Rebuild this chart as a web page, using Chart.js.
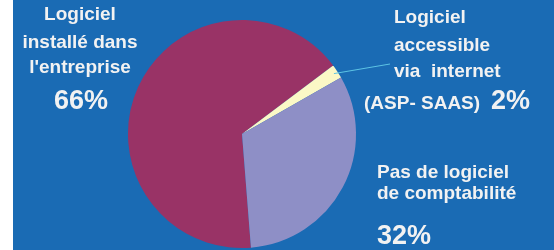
<!DOCTYPE html>
<html>
<head>
<meta charset="utf-8">
<script src="https://cdn.jsdelivr.net/npm/chart.js@4"></script>
<style>
  html, body { margin: 0; padding: 0; background: #fff; }
  #wrap { width: 554px; height: 250px; position: relative; }
</style>
</head>
<body>
<div id="wrap"><canvas id="pie" width="554" height="250"></canvas></div>
<script>
// Répartition des entreprises selon leur logiciel de comptabilité
const categories = [
  "Logiciel installé dans l'entreprise",
  'Logiciel accessible via internet (ASP - SAAS)',
  'Pas de logiciel de comptabilité'
];
const shares = [66, 2, 32];
const sliceColors = ['#993366', '#fbf8c6', '#8e8fc6'];

// label blocks: text lines, percentage
const labelLines = [
  ['Logiciel', 'installé dans', "l'entreprise"],
  ['Logiciel', 'accessible', 'via  internet', '(ASP- SAAS)'],
  ['Pas de logiciel', 'de comptabilité']
];
const pctLabels = ['66%', '2%', '32%'];

const FONT = '"Liberation Sans", Arial, sans-serif';

const backdrop = {
  id: 'backdrop',
  beforeDraw(chart){
    const c = chart.ctx;
    c.save();
    c.fillStyle = '#ffffff';
    c.fillRect(0, 0, chart.width, chart.height);
    c.fillStyle = '#1a6bb4';
    c.fillRect(13, 0, chart.width - 13, chart.height);
    c.restore();
  }
};

const labels = {
  id: 'labels',
  afterDraw(chart){
    const c = chart.ctx;
    c.save();
    c.fillStyle = '#f2f2f2';
    c.textBaseline = 'middle';

    // left block
    c.textAlign = 'center';
    c.font = 'bold 19px ' + FONT;
    [15, 43, 68].forEach((y, i) => c.fillText(labelLines[0][i], 80, y));
    c.font = 'bold 27px ' + FONT;
    c.fillText(pctLabels[0], 81, 102);

    // upper right block
    c.textAlign = 'left';
    c.font = 'bold 19px ' + FONT;
    [18, 46, 72].forEach((y, i) => c.fillText(labelLines[1][i], 394, y));
    c.fillText(labelLines[1][3], 364, 104);
    c.font = 'bold 27px ' + FONT;
    c.fillText(pctLabels[1], 491, 102);

    // lower right block
    c.font = 'bold 19px ' + FONT;
    [173, 194].forEach((y, i) => c.fillText(labelLines[2][i], 377, y));
    c.font = 'bold 27px ' + FONT;
    c.fillText(pctLabels[2], 377, 237);

    // leader line to the small slice
    const arc = chart.getDatasetMeta(0).data[1];
    const mid = (arc.startAngle + arc.endAngle) / 2;
    const r = arc.outerRadius - 4;
    c.strokeStyle = '#5cc4e4';
    c.lineWidth = 1;
    c.beginPath();
    c.moveTo(arc.x + Math.cos(mid) * r, arc.y + Math.sin(mid) * r);
    c.lineTo(390, 64);
    c.stroke();
    c.restore();
  }
};

new Chart(document.getElementById('pie'), {
  type: 'pie',
  data: {
    labels: categories,
    datasets: [{
      data: shares,
      backgroundColor: sliceColors,
      borderWidth: 0
    }]
  },
  options: {
    responsive: false,
    animation: false,
    rotation: 175.5,
    layout: { padding: { left: 128, right: 198, top: 20, bottom: 2 } },
    plugins: { legend: { display: false }, tooltip: { enabled: false } }
  },
  plugins: [backdrop, labels]
});
</script>
</body>
</html>
